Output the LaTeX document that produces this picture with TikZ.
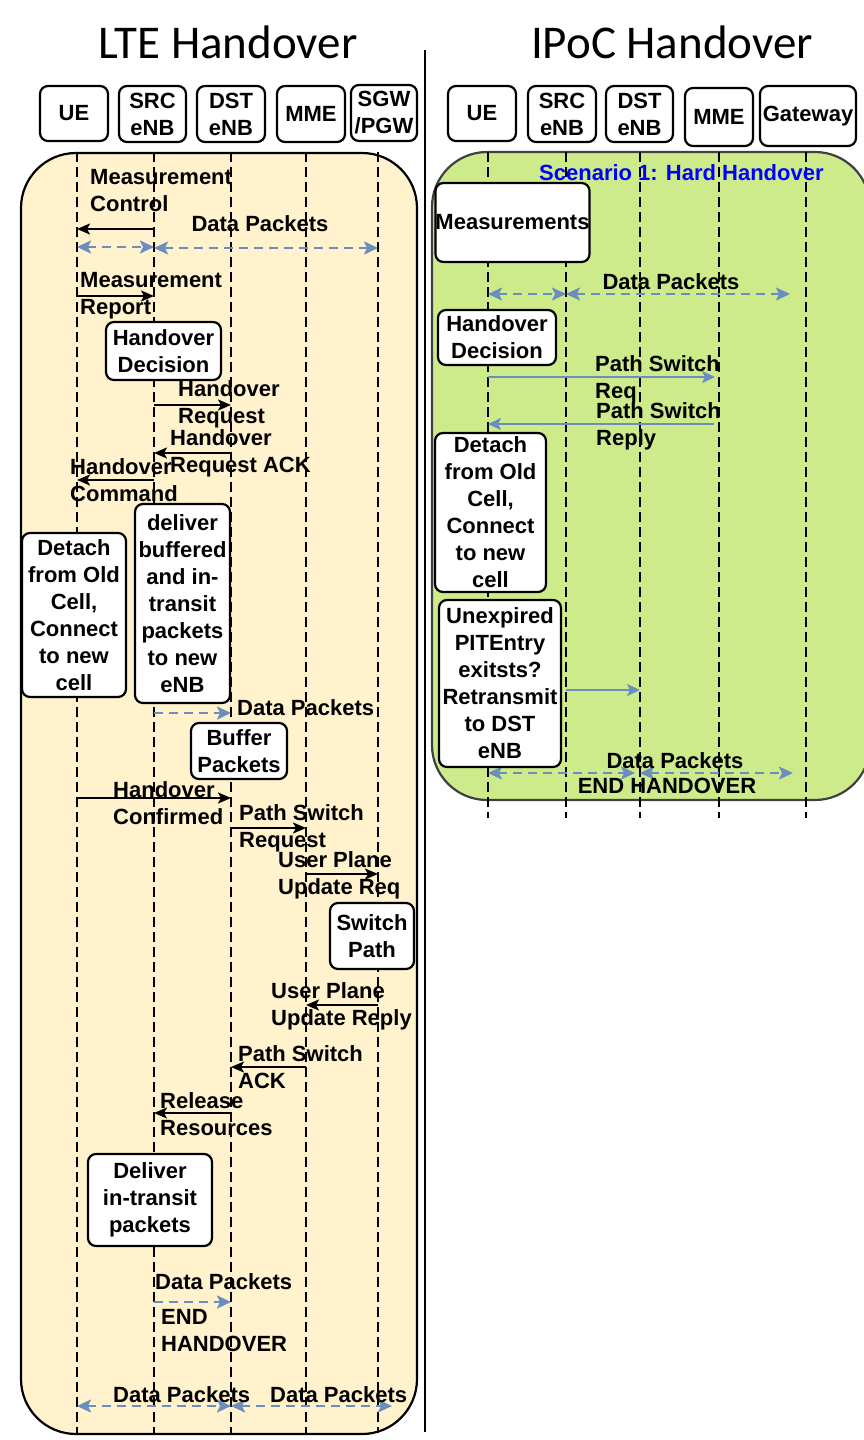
\documentclass[tikz,border=0pt]{standalone}
\usepackage{fontspec}
\setmainfont{Liberation Sans}
\newfontfamily\titlefont{Carlito}
\usetikzlibrary{arrows.meta}
\definecolor{cream}{HTML}{FFF2CC}
\definecolor{lgreen}{HTML}{CDEB8B}
\definecolor{pblue}{HTML}{6C8EBF}
\newcommand\hm[4][msg]{\draw[#1] (#2 |- 0,#4) -- (#3 |- 0,#4);}
\tikzset{
 lbf/.style={font=\bfseries\fontsize{22}{27}\selectfont},
 hdr/.style={draw, line width=2.2pt, rounded corners=8pt, fill=white, align=center, inner sep=0pt, lbf},
 box/.style={draw, line width=2.2pt, rounded corners=8pt, fill=white, align=center, inner sep=0pt, lbf},
 life/.style={line width=2.7pt, dash pattern=on 10pt off 5pt},
 msg/.style={line width=2.2pt, -{Stealth[length=13pt,width=11pt,inset=3pt]}},
 bmsg/.style={line width=2.2pt, pblue, -{Stealth[length=13pt,width=12pt,inset=3pt]}},
 data/.style={line width=2.2pt, pblue, dash pattern=on 9pt off 6pt,
   {Stealth[length=14pt,width=13pt,inset=3pt]}-{Stealth[length=14pt,width=13pt,inset=3pt]}},
 dataone/.style={line width=2.2pt, pblue, dash pattern=on 9pt off 6pt,
   -{Stealth[length=14pt,width=13pt,inset=3pt]}},
 lbl/.style={anchor=base west, align=left, inner sep=0pt, lbf},
 clbl/.style={anchor=base, align=center, inner sep=0pt, lbf},
 ttl/.style={anchor=base, inner sep=0pt, font=\titlefont\fontsize{47}{50}\selectfont},
}
\begin{document}
\begin{tikzpicture}[x=1pt,y=-1pt]
\useasboundingbox (0,0) rectangle (863,1440);
% titles
\node[ttl] (t1) at (228,58) {LTE Handover};
\node[ttl] (t2) at (672,58) {IPoC Handover};
\draw[line width=2.2pt] (425,50) -- (425,1432);
% panels
\draw[line width=2.2pt, fill=cream, rounded corners=55pt] (21,153) rectangle (417,1434);
\draw[line width=2.2pt, draw=black!75, fill=lgreen, rounded corners=55pt] (432,152) rectangle (870,800);
% headers left
\node[hdr, minimum width=68pt, minimum height=55pt] (lUE) at (74,113.5) {UE};
\node[hdr, minimum width=67pt, minimum height=56pt] (lSRC) at (152.5,114) {SRC\\eNB};
\node[hdr, minimum width=68pt, minimum height=56pt] (lDST) at (231,114) {DST\\eNB};
\node[hdr, minimum width=68pt, minimum height=56pt] (lMME) at (311,114) {MME};
\node[hdr, minimum width=66pt, minimum height=56pt] (lSGW) at (384,113) {SGW\\/PGW};
% headers right
\node[hdr, minimum width=68pt, minimum height=55pt] (rUE) at (482,113.5) {UE};
\node[hdr, minimum width=68pt, minimum height=56pt] (rSRC) at (562,114) {SRC\\eNB};
\node[hdr, minimum width=67pt, minimum height=56pt] (rDST) at (639.5,114) {DST\\eNB};
\node[hdr, minimum width=68pt, minimum height=58pt] (rMME) at (719,117) {MME};
\node[hdr, minimum width=96pt, minimum height=60pt] (rGW) at (808,116) {Gateway};
% lifelines
\coordinate (LUE) at (77,152);
\coordinate (LSRC) at (154,152);
\coordinate (LDST) at (231,152);
\coordinate (LMME) at (306,152);
\coordinate (LSGW) at (378,152);
\coordinate (RUE) at (488,152);
\coordinate (RSRC) at (566,152);
\coordinate (RDST) at (640,152);
\coordinate (RMME) at (719,152);
\coordinate (RGW) at (806,152);
\foreach \c in {LUE,LSRC,LDST,LMME,LSGW} \draw[life] (\c) -- (\c |- 0,1433);
\foreach \c in {RUE,RSRC,RDST,RMME,RGW} \draw[life] (\c) -- (\c |- 0,818);
% left messages
\hm{LSRC}{LUE}{229}
\hm[data]{LUE}{LSRC}{247}
\hm[data]{LSRC}{LSGW}{248}
\hm{LUE}{LSRC}{296}
\hm{LSRC}{LDST}{405}
\hm{LDST}{LSRC}{453}
\hm{LSRC}{LUE}{480}
\hm[dataone]{LSRC}{LDST}{713}
\hm{LUE}{LDST}{798}
\hm{LDST}{LMME}{828}
\hm{LMME}{LSGW}{874}
\hm{LSGW}{LMME}{1005}
\hm{LMME}{LDST}{1067}
\hm{LDST}{LSRC}{1113}
\hm[dataone]{LSRC}{LDST}{1302}
\hm[data]{LUE}{LDST}{1406}
\hm[data,shorten >=-14pt]{LDST}{LSGW}{1406}
% right messages
\hm[data]{RUE}{RSRC}{294}
\hm[data,shorten >=16pt]{RSRC}{RGW}{294}
\hm[bmsg,shorten >=4pt]{RUE}{RMME}{377}
\hm[bmsg,shorten <=5pt]{RMME}{RUE}{424}
\hm[bmsg]{RSRC}{RDST}{690}
\hm[data,shorten >=5pt]{RUE}{RDST}{773}
\hm[data,shorten >=13pt]{RDST}{RGW}{773}
% left boxes
\node[box, minimum width=115pt, minimum height=58pt] (hd) at (163.5,351) {Handover\\Decision};
\node[box, minimum width=95pt, minimum height=199pt] (dbuf) at (182.5,603.5) {deliver\\buffered\\and in-\\transit\\packets\\to new\\eNB};
\node[box, minimum width=104pt, minimum height=164pt] (detL) at (74,615) {Detach\\from Old\\Cell,\\Connect\\to new\\cell};
\node[box, minimum width=96pt, minimum height=56pt] (buf) at (239,751) {Buffer\\Packets};
\node[box, minimum width=84pt, minimum height=66pt] (sw) at (372,936) {Switch\\Path};
\node[box, minimum width=124pt, minimum height=92pt] (dit) at (150,1200) {Deliver\\in-transit\\packets};
% right boxes
\node[box, minimum width=149pt, minimum height=79pt] (meas) at (512.5,222.5) {Measurements};
\node[box, minimum width=118pt, minimum height=55pt] (hdR) at (497,337.5) {Handover\\Decision};
\node[box, minimum width=111pt, minimum height=159pt] (detR) at (490.5,512.5) {Detach\\from Old\\Cell,\\Connect\\to new\\cell};
\node[box, minimum width=122pt, minimum height=167pt] (unx) at (500,683.5) {Unexpired\\PITEntry\\exitsts?\\Retransmit\\to DST\\eNB};
% left labels (base = baseline of last line)
\node[lbl] (m1) at (90,211) {Measurement\\Control};
\node[clbl] (m2) at (260,231) {Data Packets};
\node[lbl] (m3) at (80,314) {Measurement\\Report};
\node[lbl] (m4) at (178,423) {Handover\\Request};
\node[lbl] (m5) at (170,472) {Handover\\Request ACK};
\node[lbl] (m6) at (70,501) {Handover\\Command};
\node[lbl] (m7) at (237,715) {Data Packets};
\node[lbl] (m8) at (113,824) {Handover\\Confirmed};
\node[lbl] (m9) at (239,847) {Path Switch\\Request};
\node[lbl] (m10) at (278,894) {User Plane\\Update Req};
\node[lbl] (m11) at (271,1025) {User Plane\\Update Reply};
\node[lbl] (m12) at (238,1088) {Path Switch\\ACK};
\node[lbl] (m13) at (160,1135) {Release\\Resources};
\node[lbl] (m14) at (155,1289) {Data Packets};
\node[lbl] (m15) at (161,1351) {END\\HANDOVER};
\node[lbl] (m16) at (113,1402) {Data Packets};
\node[lbl] (m17) at (270,1402) {Data Packets};
% right labels
\node[lbl, text=blue] (sc) at (539,180) {Scenario 1: Hard Handover};
\node[clbl] (r1) at (671,289) {Data Packets};
\node[lbl] (r2) at (595,398) {Path Switch\\Req};
\node[lbl] (r3) at (596,445) {Path Switch\\Reply};
\node[clbl] (r4) at (675,768) {Data Packets};
\node[clbl] (r5) at (667,793) {END HANDOVER};
\end{tikzpicture}
\end{document}
